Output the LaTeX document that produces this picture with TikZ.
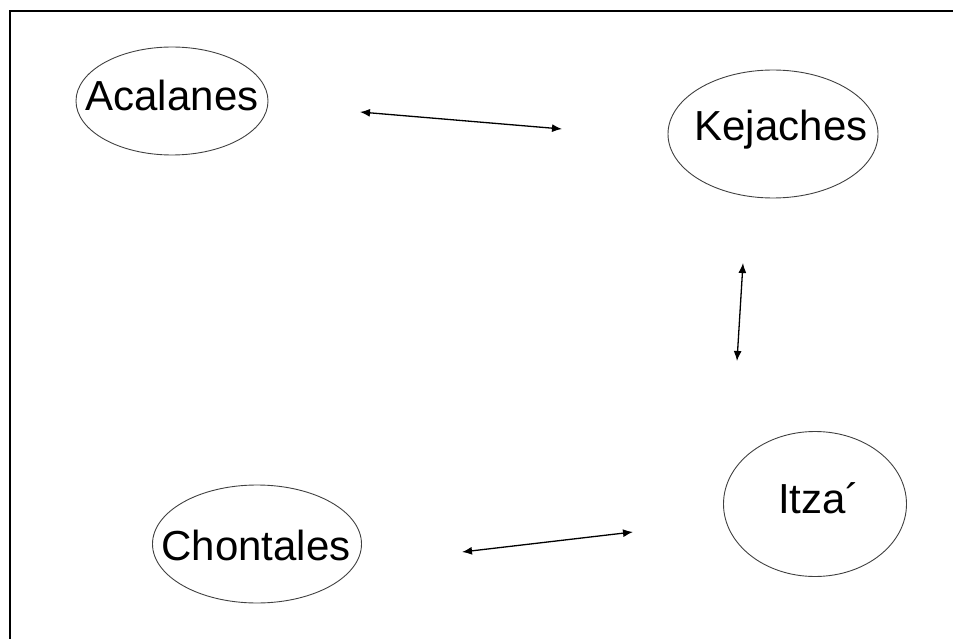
\documentclass[tikz,border=0pt]{standalone}
\usepackage{fontspec}
\setmainfont{Liberation Sans}
\usetikzlibrary{shapes.geometric,arrows.meta}

\tikzset{
	group/.style={draw=black!75, ellipse, line width=0.9pt, inner sep=0pt},
	groupname/.style={font=\fontsize{42}{42}\selectfont, inner sep=0pt,
		text height=30pt, text depth=0pt},
	link/.style={{Latex[length=10pt,width=8pt]}-{Latex[length=10pt,width=8pt]}, line width=1.3pt},
}

\begin{document}
\begin{tikzpicture}[x=1pt,y=-1pt]
	\useasboundingbox (0,0) rectangle (953,639);
	% frame
	\draw[line width=2.8pt] (10,639) -- (10,11) -- (953,11);
	%
	\node [group, minimum width=192pt, minimum height=108pt] (aca) at (172,101) {};
	\node [group, minimum width=210pt, minimum height=128pt] (kej) at (773,134) {};
	\node [group, minimum width=209pt, minimum height=118pt] (cho) at (257,544) {};
	\node [group, minimum width=183pt, minimum height=145pt] (itz) at (815,504) {};
	\node [groupname] (aca-t) at (172,96) {Acalanes};
	\node [groupname] (kej-t) at (781,126) {Kejaches};
	\node [groupname] (cho-t) at (256,545) {Chontales};
	\node [groupname] (itz-t) at (819,498) {Itza´};
	%
	\coordinate (a1) at (360,112);
	\coordinate (k1) at (562,129);
	\coordinate (k2) at (743,263);
	\coordinate (i1) at (737,361);
	\coordinate (c1) at (462,552);
	\coordinate (i2) at (633,532);
	\draw [link] (a1) -- (k1);
	\draw [link] (k2) -- (i1);
	\draw [link] (c1) -- (i2);
\end{tikzpicture}
\end{document}
